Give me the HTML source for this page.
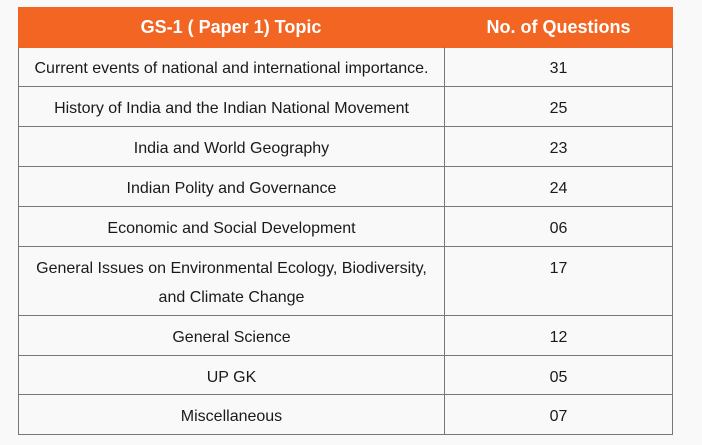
<!DOCTYPE html>
<html><head><style>
body{margin:0;width:702px;height:445px;background:#f9f9f9;font-family:"Liberation Sans",Arial,sans-serif;position:relative;overflow:hidden}
.h{position:absolute;top:7px;height:41px;background:#f26522;color:#fff;font-weight:bold;font-size:18px;display:flex;align-items:center;justify-content:center}
.c{position:absolute;box-sizing:border-box;border-left:1px solid #777;border-bottom:1px solid #777;color:#1a1a1a;font-size:16px;display:flex;justify-content:center;text-align:center;line-height:29px;padding-top:7px}
</style></head><body>
<div class="h" style="left:18px;width:426px">GS-1 ( Paper 1) Topic</div>
<div class="h" style="left:444px;width:229px">No. of Questions</div>
<div id="t"></div>
<script>
var rows=[["Current events of national and international importance.","31",47,87],
["History of India and the Indian National Movement","25",87,127],
["India and World Geography","23",127,167],
["Indian Polity and Governance","24",167,207],
["Economic and Social Development","06",207,247],
["General Issues on Environmental Ecology, Biodiversity,<br>and Climate Change","17",247,316],
["General Science","12",316,356],
["UP GK","05",356,395],
["Miscellaneous","07",395,435]];
var h="";
rows.forEach(function(r){
h+='<div class="c" style="left:18px;width:426px;top:'+r[2]+'px;height:'+(r[3]-r[2])+'px">'+r[0]+'</div>';
h+='<div class="c" style="left:444px;width:229px;top:'+r[2]+'px;height:'+(r[3]-r[2])+'px;border-right:1px solid #777">'+r[1]+'</div>';
});
document.getElementById("t").innerHTML=h;
</script>
</body></html>
